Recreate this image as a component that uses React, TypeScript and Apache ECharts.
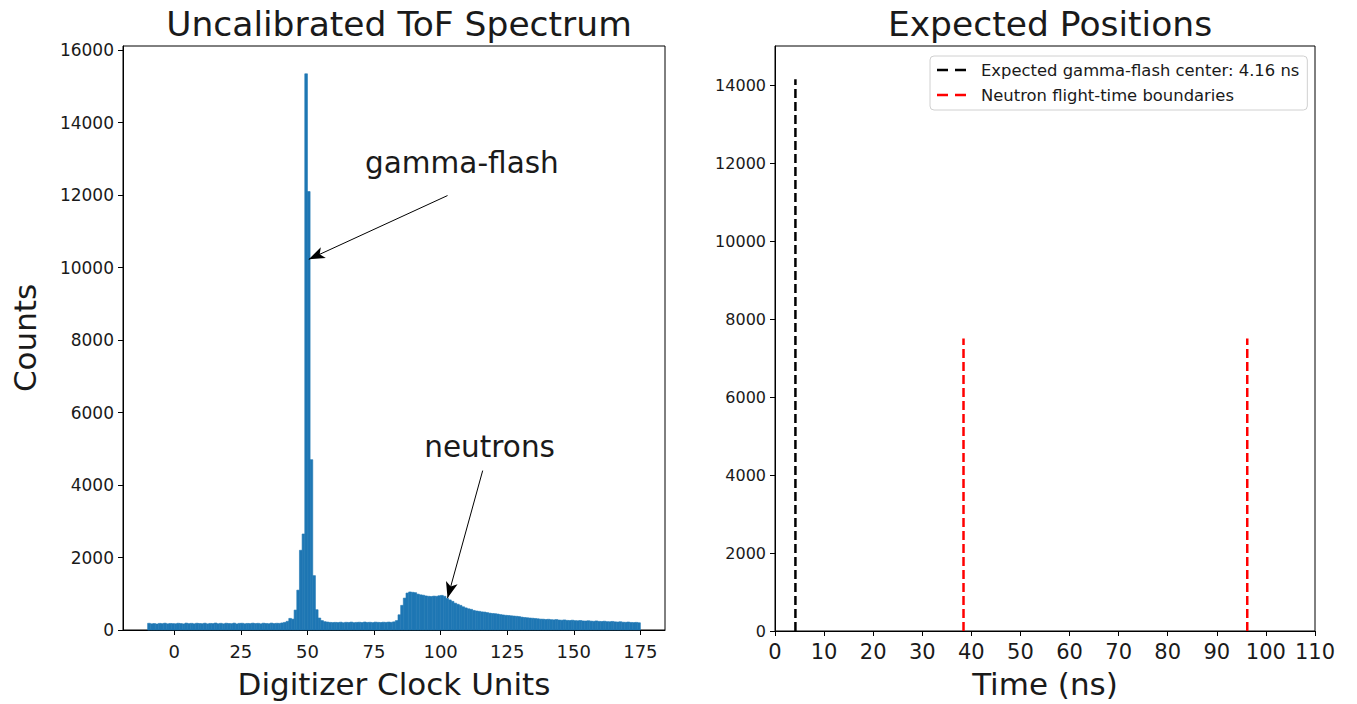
import React, { useEffect, useRef } from "react";
import * as echarts from "echarts";

// ---------- Data ----------
const binStart = -10;
const binWidth = 1;
// counts per 1-unit bin, starting at -10
const counts = [
  // -10 .. -1
  185, 170, 178, 165, 182, 175, 188, 170, 180, 176,
  // 0 .. 9
  172, 185, 178, 168, 190, 176, 183, 171, 186, 179,
  // 10 .. 19
  174, 188, 169, 181, 177, 192, 173, 184, 170, 187,
  // 20 .. 29
  179, 175, 190, 168, 183, 186, 172, 181, 177, 189,
  // 30 .. 39
  176, 184, 171, 188, 180, 174, 191, 178, 185, 182,
  // 40 .. 49
  195, 210, 240, 320, 300, 550, 1100, 2200, 2650, 15350,
  // 50 .. 59
  12100, 4700, 1500, 560, 330, 260, 230, 220, 210, 205,
  // 60 .. 69
  210, 205, 215, 200, 212, 208, 218, 203, 210, 214,
  // 70 .. 79
  206, 220, 209, 213, 204, 217, 211, 207, 215, 210,
  // 80 .. 89
  219, 212, 225, 260, 420, 680, 880, 1020, 1050, 1040,
  // 90 .. 99
  1030, 990, 970, 960, 940, 930, 925, 935, 930, 945,
  // 100 .. 109
  955, 930, 870, 830, 790, 740, 710, 680, 640, 610,
  // 110 .. 119
  585, 570, 540, 525, 515, 500, 495, 480, 465, 455,
  // 120 .. 129
  450, 440, 425, 415, 405, 400, 390, 385, 378, 370,
  // 130 .. 139
  355, 345, 338, 330, 325, 318, 310, 300, 298, 290,
  // 140 .. 149
  295, 285, 280, 288, 275, 270, 278, 265, 262, 270,
  // 150 .. 159
  258, 255, 262, 250, 248, 255, 245, 240, 250, 238,
  // 160 .. 169
  235, 242, 230, 228, 236, 225, 220, 228, 215, 212,
  // 170 .. 174
  220, 208, 205, 210, 200,
];

const leftXTicks = [0, 25, 50, 75, 100, 125, 150, 175];
const leftYTicks = [0, 2000, 4000, 6000, 8000, 10000, 12000, 14000, 16000];
const rightYTicks = [0, 2000, 4000, 6000, 8000, 10000, 12000, 14000];

const gammaCenter = 4.16;
const gammaLineTop = 14150;
const neutronBounds = [38.4, 96.2];
const neutronLineTop = 7500;

const gammaArrow = { from: [102.6, 11990], to: [50.5, 10230] };
const neutronArrow = { from: [115.8, 4400], to: [102.6, 880] };
const gammaLabelPos = [108, 12900];
const neutronLabelPos = [118.4, 5060];

const legendNames = ["Expected gamma-flash center: 4.16 ns", "Neutron flight-time boundaries"];

const FONT = "DejaVu Sans";
const TXT = "#1a1a1a";
const DASH_ICON = "path://M0,0h11v2.5h-11z M18,0h11v2.5h-11z";

export default function App() {
  const ref = useRef<HTMLDivElement>(null);

  useEffect(() => {
    if (!ref.current) return;
    const chart = echarts.init(ref.current, null, { renderer: "svg" });

    const histData = counts.map((c, i) => [
      binStart + i * binWidth,
      binStart + (i + 1) * binWidth,
      c,
    ]);
    const histMax = Math.max(...counts) * 1.05;
    const xMin = binStart - 0.05 * counts.length * binWidth;
    const xMax = binStart + counts.length * binWidth + 0.05 * counts.length * binWidth;
    const plain = (v: number) => String(v);

    const axisCommon = {
      axisLine: { show: true, onZero: false, lineStyle: { color: "#000", width: 1 } },
      axisTick: { show: true, length: 5, lineStyle: { color: "#000", width: 1 } },
      splitLine: { show: false },
    };

    const option: any = {
      animation: false,
      textStyle: { fontFamily: FONT },
      title: [
        {
          text: "Uncalibrated ToF Spectrum",
          left: 394,
          top: 1,
          textAlign: "center",
          textStyle: { fontFamily: FONT, fontSize: 34.5, fontWeight: "normal", color: TXT },
        },
        {
          text: "Expected Positions",
          left: 1045,
          top: 1,
          textAlign: "center",
          textStyle: { fontFamily: FONT, fontSize: 34.5, fontWeight: "normal", color: TXT },
        },
      ],
      legend: {
        left: 930,
        top: 56,
        orient: "vertical",
        itemWidth: 29,
        itemHeight: 12,
        itemGap: 9,
        padding: [6, 8, 7, 7],
        borderColor: "#d0d0d0",
        borderWidth: 1,
        borderRadius: 4,
        backgroundColor: "#fff",
        textStyle: { fontFamily: FONT, fontSize: 16.4, color: TXT, padding: [0, 0, 0, 10] },
        data: legendNames.map((n) => ({ name: n, icon: DASH_ICON })),
      },
      grid: [
        { left: 123, width: 542, top: 46, height: 586, show: true, borderColor: "#000", borderWidth: 1 },
        { left: 775, width: 540, top: 46, height: 586, show: true, borderColor: "#000", borderWidth: 1 },
      ],
      xAxis: [
        {
          ...axisCommon,
          type: "value",
          gridIndex: 0,
          min: xMin,
          max: xMax,
          axisTick: { ...axisCommon.axisTick, customValues: leftXTicks },
          axisLabel: {
            customValues: leftXTicks,
            formatter: plain,
            fontFamily: FONT,
            fontSize: 18,
            color: TXT,
            margin: 12,
          },
          name: "Digitizer Clock Units",
          nameLocation: "middle",
          nameGap: 38,
          nameTextStyle: { fontFamily: FONT, fontSize: 31, color: TXT },
        },
        {
          ...axisCommon,
          type: "value",
          gridIndex: 1,
          min: 0,
          max: 110,
          interval: 10,
          axisLabel: { formatter: plain, fontFamily: FONT, fontSize: 21, color: TXT, margin: 10, showMaxLabel: true },
          name: "Time (ns)",
          nameLocation: "middle",
          nameGap: 37,
          nameTextStyle: { fontFamily: FONT, fontSize: 31, color: TXT },
        },
      ],
      yAxis: [
        {
          ...axisCommon,
          type: "value",
          gridIndex: 0,
          min: 0,
          max: histMax,
          axisTick: { ...axisCommon.axisTick, customValues: leftYTicks },
          axisLabel: {
            customValues: leftYTicks,
            formatter: plain,
            fontFamily: FONT,
            fontSize: 17,
            color: TXT,
            margin: 9,
          },
          name: "Counts",
          nameLocation: "middle",
          nameGap: 83,
          nameTextStyle: { fontFamily: FONT, fontSize: 31, color: TXT },
        },
        {
          ...axisCommon,
          type: "value",
          gridIndex: 1,
          min: 0,
          max: 15000,
          axisTick: { ...axisCommon.axisTick, customValues: rightYTicks },
          axisLabel: {
            customValues: rightYTicks,
            formatter: plain,
            fontFamily: FONT,
            fontSize: 16,
            color: TXT,
            margin: 9,
          },
        },
      ],
      series: [
        {
          type: "custom",
          name: "hist",
          xAxisIndex: 0,
          yAxisIndex: 0,
          data: histData,
          encode: { x: [0, 1], y: 2 },
          renderItem: (params: any, api: any) => {
            const x0 = api.value(0);
            const x1 = api.value(1);
            const v = api.value(2);
            const p0 = api.coord([x0, v]);
            const p1 = api.coord([x1, 0]);
            return {
              type: "rect",
              shape: { x: p0[0], y: p0[1], width: p1[0] - p0[0], height: p1[1] - p0[1] },
              style: { fill: "#1f77b4", stroke: "#1f77b4", lineWidth: 0.6 },
            };
          },
          markLine: {
            silent: true,
            symbol: ["none", "arrow"],
            symbolSize: [9, 16],
            label: { show: false },
            lineStyle: { color: "#000", width: 1, type: "solid" },
            data: [
              [{ coord: gammaArrow.from }, { coord: gammaArrow.to }],
              [{ coord: neutronArrow.from }, { coord: neutronArrow.to }],
            ],
          },
          markPoint: {
            silent: true,
            symbol: "rect",
            symbolSize: 1,
            itemStyle: { color: "rgba(0,0,0,0)" },
            label: {
              show: true,
              position: "inside",
              formatter: "{b}",
              fontFamily: FONT,
              fontSize: 29.5,
              color: TXT,
            },
            data: [
              { name: "gamma-flash", coord: gammaLabelPos },
              { name: "neutrons", coord: neutronLabelPos },
            ],
          },
        },
        {
          type: "line",
          name: legendNames[0],
          xAxisIndex: 1,
          yAxisIndex: 1,
          symbol: "none",
          data: [
            [gammaCenter, 0],
            [gammaCenter, gammaLineTop],
          ],
          itemStyle: { color: "#000" },
          lineStyle: { color: "#000", width: 2.5, type: [9, 4] },
        },
        ...neutronBounds.map((b) => ({
          type: "line",
          name: legendNames[1],
          xAxisIndex: 1,
          yAxisIndex: 1,
          symbol: "none",
          data: [
            [b, 0],
            [b, neutronLineTop],
          ],
          itemStyle: { color: "#ff0000" },
          lineStyle: { color: "#ff0000", width: 2.5, type: [9, 4] },
        })),
      ],
    };

    chart.setOption(option);
    return () => chart.dispose();
  }, []);

  return (
    <div
      ref={ref}
      style={{ position: "fixed", left: 0, top: 0, width: "1357px", height: "704px", background: "#fff" }}
    />
  );
}
